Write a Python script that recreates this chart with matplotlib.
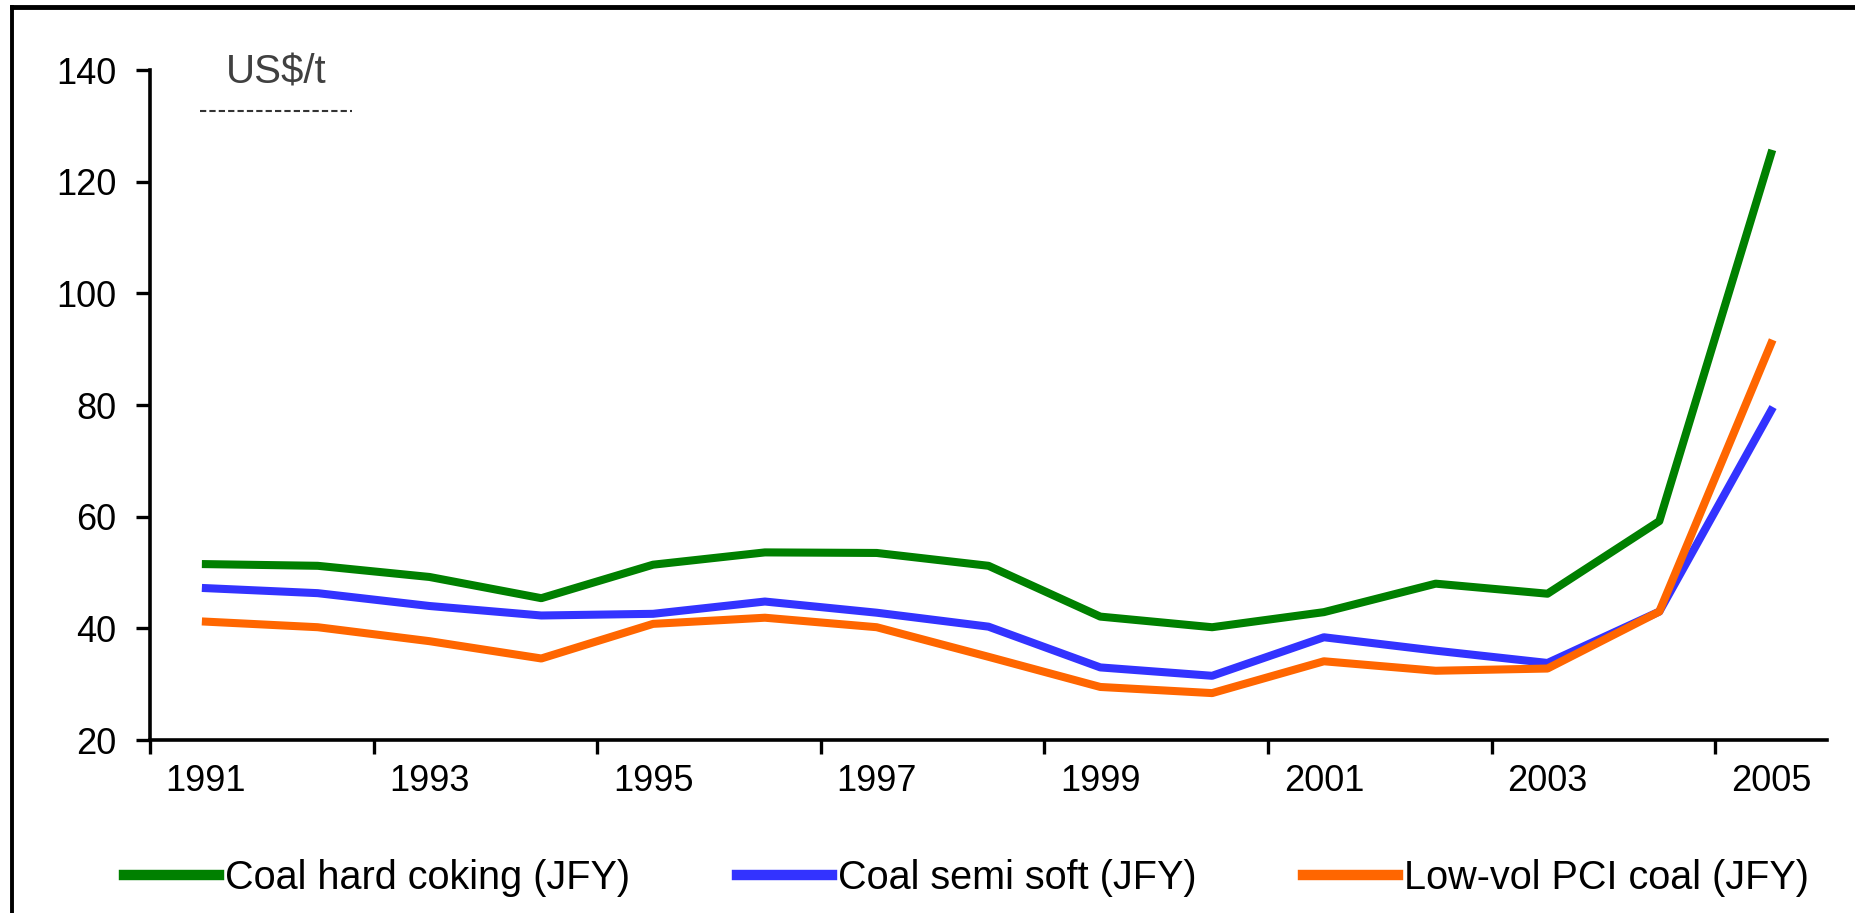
import matplotlib
matplotlib.use("Agg")
import matplotlib.pyplot as plt
from matplotlib.lines import Line2D

years = [str(y) for y in range(1991, 2006)]
hard_coking = [51.5, 51.2, 49.2, 45.4, 51.4, 53.6, 53.5, 51.2, 42.1, 40.2, 42.9, 48.0, 46.2, 59.2, 125.0]
semi_soft = [47.2, 46.3, 44.0, 42.3, 42.6, 44.8, 42.8, 40.3, 33.0, 31.5, 38.4, 36.0, 33.8, 43.0, 79.0]
low_vol_pci = [41.2, 40.2, 37.7, 34.6, 40.8, 41.9, 40.2, 34.9, 29.5, 28.4, 34.1, 32.4, 32.8, 43.0, 91.0]
labels = ["Coal hard coking (JFY)", "Coal semi soft (JFY)", "Low-vol PCI coal (JFY)"]
colors = ["#008000", "#3333FF", "#FF6600"]
yticks = [20, 40, 60, 80, 100, 120, 140]

plt.rcParams['font.family'] = ['Liberation Sans', 'DejaVu Sans']

W, H = 1856, 913
fig = plt.figure(figsize=(W / 100, H / 100), dpi=100)
ax = fig.add_axes([150 / W, 1 - 740 / H, (1827 - 150) / W, (740 - 70) / H])

x = list(range(len(years)))
lines = []
for series, lab, col in zip([hard_coking, semi_soft, low_vol_pci], labels, colors):
    ln, = ax.plot(x, series, color=col, lw=5.8, label=lab, solid_joinstyle='round')
    lines.append(ln)

ax.set_xlim(-0.5, len(years) - 0.5)
ax.set_ylim(20, 140)

# tick marks at category boundaries, labels on every other category
ax.set_xticks([i - 0.5 for i in range(0, len(years), 2)])
ax.set_xticklabels([])
ax.set_xticks(x[::2], minor=True)
ax.set_xticklabels(years[::2], minor=True)
ax.tick_params(axis='x', which='major', direction='out', length=10, width=2.4)
ax.tick_params(axis='x', which='minor', length=0, pad=17, labelsize=26)

ax.set_yticks(yticks)
ax.tick_params(axis='y', direction='out', length=10, width=2.4, pad=14, labelsize=26)

for s in ['top', 'right']:
    ax.spines[s].set_visible(False)
for s in ['left', 'bottom']:
    ax.spines[s].set_linewidth(2.6)

ax.text(226 / W, 1 - 72 / H, "US$/t", transform=fig.transFigure, fontsize=29,
        color='#404040', va='center', ha='left')
fig.add_artist(Line2D([200 / W, 352 / W], [1 - 111 / H, 1 - 111 / H], transform=fig.transFigure,
                      color='#333333', lw=1.5, ls=(0, (3, 1.5))))

# outer frame (top and left edges only)
fig.add_artist(Line2D([12 / W, 1], [1 - 7 / H, 1 - 7 / H], transform=fig.transFigure, color='black', lw=3.5))
fig.add_artist(Line2D([12 / W, 12 / W], [0, 1 - 7 / H], transform=fig.transFigure, color='black', lw=2.8))

leg = fig.legend(handles=lines, labels=labels, ncol=3, loc='center left',
                 bbox_to_anchor=(124 / W, 1 - 878 / H), frameon=False, fontsize=28.5,
                 handlelength=2.4, handletextpad=0.15, columnspacing=2.7,
                 borderpad=0, borderaxespad=0)
for hl in leg.get_lines():
    hl.set_linewidth(7.5)

fig.savefig("out.png", dpi=100)
